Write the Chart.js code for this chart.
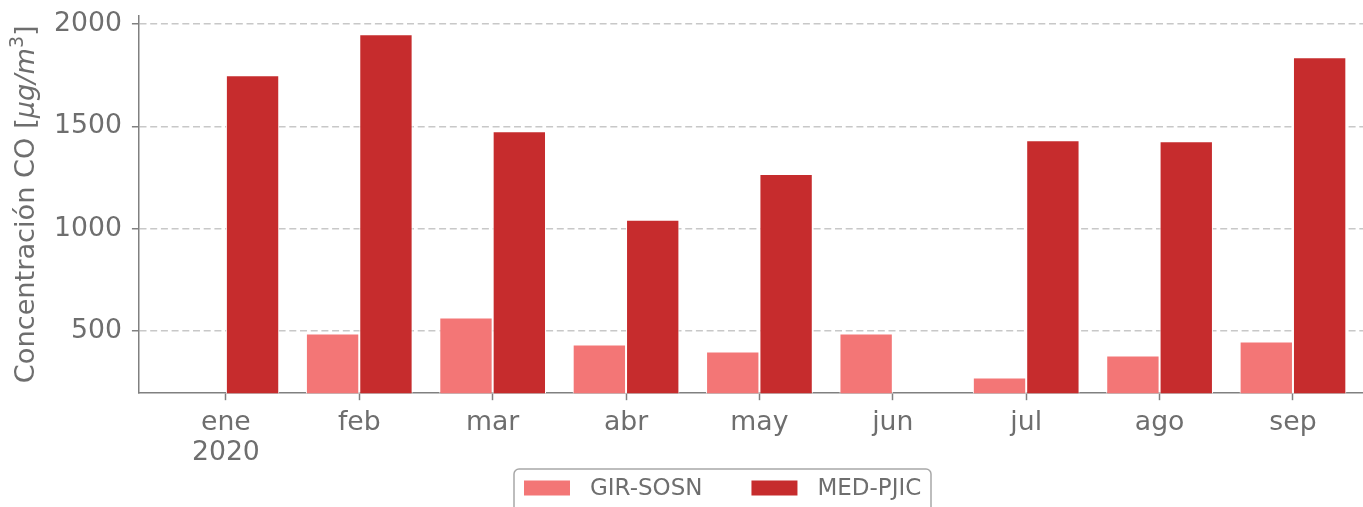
<!DOCTYPE html>
<html><head><meta charset="utf-8">
<script src="https://cdn.jsdelivr.net/npm/chart.js@4"></script>
<style>html,body{margin:0;padding:0;background:#fff}#wrap{width:1363px;height:507px}</style>
</head><body><div id="wrap"><canvas id="c" width="1363" height="507"></canvas></div>
<script>
const months = [['ene', '2020'], 'feb', 'mar', 'abr', 'may', 'jun', 'jul', 'ago', 'sep'];
const girSosn = [null, 489, 567, 435, 401, 489, 274, 381, 450];
const medPjic = [1749, 1950, 1476, 1044, 1267, null, 1432, 1427, 1837];
const yTicks = [500, 1000, 1500, 2000];
const seriesNames = ['GIR-SOSN', 'MED-PJIC'];
const seriesColors = ['#f37676', '#c62c2d'];
const yTitleText = ['Concentración CO [', 'μg/m', '3', ']'];

const FONT = '"DejaVu Sans", "Liberation Sans", sans-serif';
const TXT = '#6e6e6e';
const AX = '#808080';

const toXY = arr => arr.map((v, i) => ({x: i, y: v}));

const yTitlePlugin = {
  id: 'yTitle',
  afterDraw(chart) {
    const {ctx, chartArea} = chart;
    const cy = (chartArea.top + chartArea.bottom) / 2;
    const parts = [
      {t: yTitleText[0], f: '27.2px ' + FONT, dy: 0},
      {t: yTitleText[1], f: 'italic 27.2px ' + FONT, dy: 0},
      {t: yTitleText[2], f: '19px ' + FONT, dy: -11},
      {t: yTitleText[3], f: '27.2px ' + FONT, dy: 0}
    ];
    ctx.save();
    let total = 0;
    parts.forEach(p => { ctx.font = p.f; p.w = ctx.measureText(p.t).width; total += p.w; });
    ctx.translate(34, cy);
    ctx.rotate(-Math.PI / 2);
    ctx.fillStyle = TXT;
    ctx.textBaseline = 'alphabetic';
    ctx.textAlign = 'left';
    let x = -total / 2;
    parts.forEach(p => { ctx.font = p.f; ctx.fillText(p.t, x, p.dy); x += p.w; });
    ctx.restore();
  }
};

const legendPlugin = {
  id: 'boxLegend',
  afterDraw(chart) {
    const ctx = chart.ctx;
    const ds = chart.data.datasets;
    ctx.save();
    const boxL = 514, boxT = 469, boxW = 417, boxH = 60, r = 5;
    ctx.strokeStyle = '#a8a8a8';
    ctx.lineWidth = 1.5;
    ctx.beginPath();
    ctx.roundRect(boxL, boxT, boxW, boxH, r);
    ctx.fillStyle = 'rgba(255,255,255,0.8)';
    ctx.fill();
    ctx.stroke();
    ctx.font = '23px ' + FONT;
    ctx.textBaseline = 'middle';
    let x = 524;
    const cy = 488;
    ds.forEach(d => {
      ctx.fillStyle = d.backgroundColor;
      ctx.fillRect(x, cy - 7.5, 46, 15);
      ctx.fillStyle = TXT;
      ctx.fillText(d.label, x + 66, cy + 1);
      x += 66 + ctx.measureText(d.label).width + 49;
    });
    ctx.restore();
  }
};

new Chart(document.getElementById('c'), {
  type: 'bar',
  data: {
    datasets: [
      {label: seriesNames[0], data: toXY(girSosn), backgroundColor: seriesColors[0], borderColor: '#ffffff', borderWidth: 1},
      {label: seriesNames[1], data: toXY(medPjic), backgroundColor: seriesColors[1], borderColor: '#ffffff', borderWidth: 1}
    ]
  },
  options: {
    responsive: false,
    animation: false,
    devicePixelRatio: 1,
    categoryPercentage: 0.8,
    barPercentage: 1.0,
    layout: {padding: {left: 44, right: 0, top: 0, bottom: 31}},
    plugins: {legend: {display: false}, tooltip: {enabled: false}},
    scales: {
      x: {
        type: 'linear',
        offset: false,
        min: -0.652,
        max: 8.525,
        afterBuildTicks: s => { s.ticks = months.map((_, i) => ({value: i})); },
        ticks: {
          callback: v => months[v],
          font: {family: FONT, size: 26.7, lineHeight: 1.12},
          color: TXT, padding: 8, maxRotation: 0, autoSkip: false
        },
        grid: {offset: false, drawOnChartArea: false, drawTicks: true, tickLength: 7, tickColor: AX, tickWidth: 1.5},
        border: {display: true, color: AX, width: 1.5}
      },
      y: {
        min: 197,
        max: 2042,
        afterBuildTicks: s => { s.ticks = yTicks.map(v => ({value: v})); },
        ticks: {
          callback: v => String(v),
          font: {family: FONT, size: 26.7, lineHeight: 0.4},
          color: TXT, padding: 10
        },
        grid: {color: '#c8c8c8', lineWidth: 1.5, drawTicks: true, tickLength: 7, tickColor: AX, tickWidth: 1.5},
        border: {display: true, color: AX, width: 1.5, dash: [7, 3.7]}
      }
    }
  },
  plugins: [yTitlePlugin, legendPlugin]
});
</script>
</body></html>
